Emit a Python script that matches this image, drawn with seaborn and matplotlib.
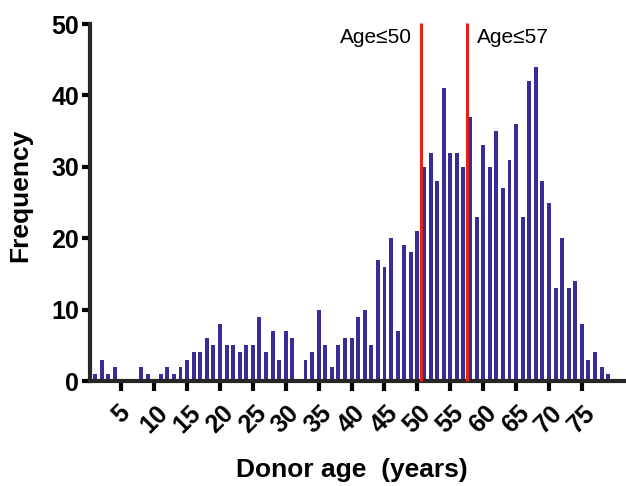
import matplotlib
matplotlib.use("Agg")
import matplotlib.pyplot as plt
import seaborn as sns

# donor age histogram (counts per year of age)
ages = list(range(1, 80))
counts = [
    1, 3, 1, 2, 0, 0, 0, 2, 1, 0,          # 1-10
    1, 2, 1, 2, 3, 4, 4, 6, 5, 8,          # 11-20
    5, 5, 4, 5, 5, 9, 4, 7, 3, 7,          # 21-30
    6, 0, 3, 4, 10, 5, 2, 5, 6, 6,         # 31-40
    9, 10, 5, 17, 16, 20, 7, 19, 18, 21,   # 41-50
    30, 32, 28, 41, 32, 32, 30, 37, 23, 33,  # 51-60
    30, 35, 27, 31, 36, 23, 42, 44, 28, 25,  # 61-70
    13, 20, 13, 14, 8, 3, 4, 2, 1,        # 71-79
]
cutoffs = [50.5, 57.5]
cutoff_labels = ["Age\u226450", "Age\u226457"]
xticks = list(range(5, 80, 5))
yticks = [0, 10, 20, 30, 40, 50]

sns.set_style("ticks")
plt.rcParams['font.family'] = ['Liberation Sans', 'DejaVu Sans']
plt.rcParams['text.color'] = 'black'
plt.rcParams['axes.labelcolor'] = 'black'
plt.rcParams['xtick.color'] = 'black'
plt.rcParams['ytick.color'] = 'black'

fig = plt.figure(figsize=(6.26, 4.86), dpi=100)
ax = fig.add_axes([0.1438, 0.216, 0.853, 0.7346])

sns.barplot(x=ages, y=counts, native_scale=True, width=0.6,
            color="#382c98", saturation=1, linewidth=0, ax=ax)

ax.set_xlim(0.25, 81.4)
ax.set_ylim(0, 50)

for c in cutoffs:
    ax.vlines(c, 0, 50.2, color="#e2231a", linewidth=2.2, clip_on=False, zorder=3)

ax.text(cutoffs[0] - 1.3, 47.4, cutoff_labels[0], ha='right', va='baseline', fontsize=15)
ax.text(cutoffs[1] + 1.5, 47.4, cutoff_labels[1], ha='left', va='baseline', fontsize=15)

ax.set_xticks(xticks)
ax.set_xticklabels([str(t) for t in xticks], rotation=45, ha='center',
                   fontsize=18, fontweight='bold')
ax.set_yticks(yticks)
ax.set_yticklabels([str(t) for t in yticks], fontsize=18, fontweight='bold')

for side in ['top', 'right']:
    ax.spines[side].set_visible(False)
for side in ['left', 'bottom']:
    ax.spines[side].set_linewidth(3)
ax.tick_params(axis='both', width=3, length=6, pad=2)
ax.tick_params(axis='x', length=7, pad=7)

ax.set_ylabel("Frequency", fontsize=19, fontweight='bold')
ax.yaxis.set_label_coords(-0.109, 0.52)
ax.set_xlabel("Donor age  (years)", fontsize=19, fontweight='bold')
ax.xaxis.set_label_coords(0.49, -0.216)

fig.savefig("out.png", dpi=100)
